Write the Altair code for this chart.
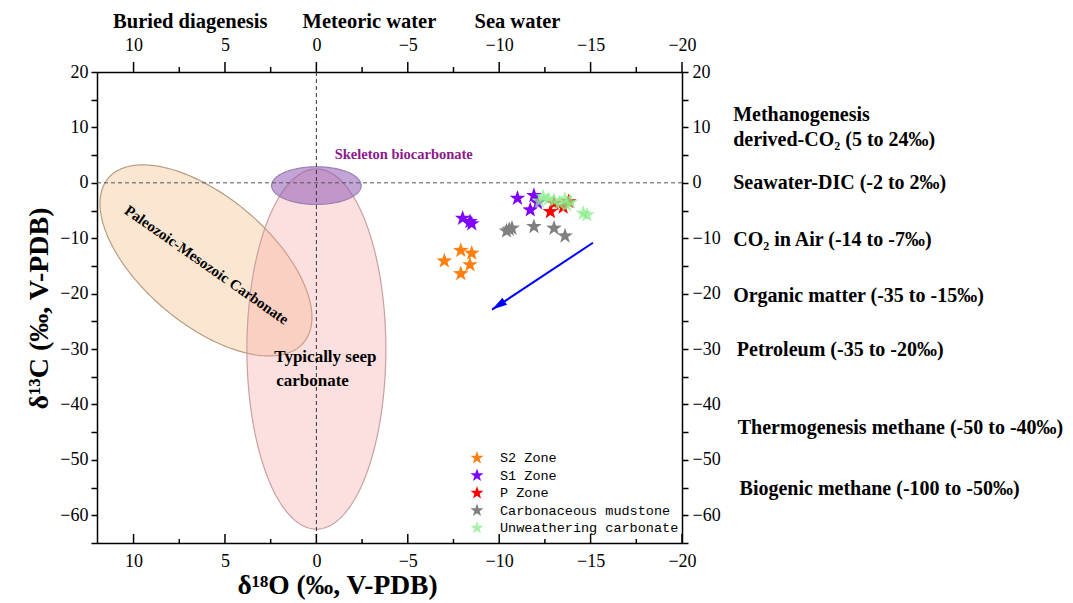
import math
import numpy as np
import pandas as pd
import altair as alt

# plot-area size in pixels and axis ranges (‰ V-PDB)
W, H = 585, 471
X_DOMAIN = [12, -20]
Y_DOMAIN = [-65, 20]
SERIF = "Liberation Serif"

# ---- measured isotope values: δ18O and δ13C ----
s2_o18 = [-7.0, -7.9, -8.5, -8.4, -7.9]
s2_c13 = [-14.1, -12.2, -12.7, -14.8, -16.4]
s1_o18 = [-8.0, -8.5, -8.4, -11.0, -11.9, -11.7, -12.1]
s1_c13 = [-6.4, -7.4, -7.0, -2.8, -2.3, -4.9, -3.6]
p_o18 = [-12.8, -13.8, -13.0, -13.5]
p_c13 = [-5.2, -3.4, -3.7, -4.4]
cm_o18 = [-10.4, -10.7, -10.55, -11.9, -13.0, -13.6]
cm_c13 = [-8.7, -8.2, -8.4, -7.9, -8.2, -9.6]
uw_o18 = [-12.4, -12.7, -13.0, -13.3, -13.7, -13.9, -13.6, -12.2, -14.6, -14.8]
uw_c13 = [-2.5, -2.9, -3.2, -3.7, -4.0, -3.5, -2.9, -3.3, -5.5, -5.8]

SERIES = ["S2 Zone", "S1 Zone", "P Zone", "Carbonaceous mudstone", "Unweathering carbonate"]
COLORS = ["#ff7f0e", "#7f00ff", "#ff0000", "#808080", "rgba(140,236,140,0.75)"]
SERIES_VALUES = [(s2_o18, s2_c13), (s1_o18, s1_c13), (p_o18, p_c13),
                 (cm_o18, cm_c13), (uw_o18, uw_c13)]

# axis tick positions
x_major = [10, 5, 0, -5, -10, -15, -20]
x_minor = [7.5, 2.5, -2.5, -7.5, -12.5, -17.5]
y_ticks = list(range(-65, 21, 5))

# field ellipses: centre and two conjugate semi-axis vectors (data units)
ELLIPSES = [
    # name, centre, u, v, fill, stroke
    ("Paleozoic-Mesozoic", (6.04, -14.0), (-5.3, -15.0), (2.35, -8.5),
     "rgba(245,196,140,0.40)", "#b89c80"),
    ("Seep", (0.0, -30.0), (3.8, 0.0), (0.0, 32.5),
     "rgba(245,160,160,0.32)", "#c8a0a0"),
    ("Skeleton", (0.0, -0.5), (2.45, 0.0), (0.0, 3.4),
     "rgba(145,90,180,0.55)", "#9a80b4"),
]

# trend arrow (start, tip)
arrow_o18 = [-15.13, -9.61]
arrow_c13 = [-10.81, -22.88]

# carbon-source annotations on the right
source_labels = ["Methanogenesis", "derived-CO\u2082 (5 to 24\u2030)", "Seawater-DIC (-2 to 2\u2030)",
                 "CO\u2082  in Air (-14 to -7\u2030)", "Organic matter (-35 to -15\u2030)",
                 "Petroleum (-35 to -20\u2030)", "Thermogenesis methane (-50 to -40\u2030)",
                 "Biogenic methane (-100 to -50\u2030)"]
source_x = [-22.8, -22.8, -22.8, -22.8, -22.8, -23.0, -23.05, -23.15]
source_y = [12.3, 7.8, 0.0, -10.3, -20.4, -30.1, -44.2, -55.3]

# water-type headers above the top axis
header_labels = ["Buried diagenesis", "Meteoric water", "Sea water"]
header_x = [6.9, -2.9, -11.0]
header_y = [29.0, 29.0, 29.0]

STAR = ("M0,-1L0.235,-0.324L0.951,-0.309L0.38,0.124L0.588,0.809L0,0.4"
        "L-0.588,0.809L-0.38,0.124L-0.951,-0.309L-0.235,-0.324Z")
ARROW_HEAD = "M0,0L0.55,2L-0.55,2Z"

XS = alt.Scale(domain=X_DOMAIN, nice=False, zero=False)
YS = alt.Scale(domain=Y_DOMAIN, nice=False, zero=False)

axis_common = dict(grid=False, domainColor="black", domainWidth=1.5, labelFont=SERIF,
                   labelFontSize=18, labelColor="black", labelOverlap=False, labelFlush=False)

bottom_axis = alt.Axis(orient="bottom", values=x_major, ticks=False, labelPadding=9,
                       title="\u03b4\u00b9\u2078O (\u2030, V-PDB)", titleFont=SERIF, titleFontSize=27.5,
                       titleFontWeight="bold", titleColor="black", titlePadding=1, titleX=240,
                       **axis_common)
top_axis = alt.Axis(orient="top", values=x_major, ticks=False, labelPadding=18, title=None,
                    **axis_common)
y_label_expr = "datum.value % 10 === 0 ? datum.label : ''"
left_axis = alt.Axis(orient="left", values=y_ticks, labelExpr=y_label_expr, tickSize=6,
                     tickColor="black", tickWidth=1.5, labelPadding=3,
                     title="\u03b4\u00b9\u00b3C (\u2030, V-PDB)", titleFont=SERIF, titleFontSize=28,
                     titleFontWeight="bold", titleColor="black", titlePadding=6, titleY=236,
                     **axis_common)
right_axis = alt.Axis(orient="right", values=y_ticks, labelExpr=y_label_expr, tickSize=6,
                      tickColor="black", tickWidth=1.5, labelPadding=4, title=None,
                      **axis_common)


def ellipse_band(c, u, v, n=160):
    """Upper/lower boundary of the ellipse c + u cos t + v sin t, sampled along x."""
    r = math.hypot(u[0], v[0])
    phi = math.atan2(v[0], u[0])
    s = np.linspace(math.pi, 0, n)
    x = c[0] + r * np.cos(s)
    y_a = c[1] + u[1] * np.cos(s + phi) + v[1] * np.sin(s + phi)
    y_b = c[1] + u[1] * np.cos(-s + phi) + v[1] * np.sin(-s + phi)
    return pd.DataFrame({"x": x, "lo": np.minimum(y_a, y_b), "hi": np.maximum(y_a, y_b)})


def ellipse_outline(c, u, v, n=240):
    """Closed outline of the ellipse c + u cos t + v sin t."""
    t = np.linspace(0, 2 * math.pi, n)
    return pd.DataFrame({"k": np.arange(n),
                         "x": c[0] + u[0] * np.cos(t) + v[0] * np.sin(t),
                         "y": c[1] + u[1] * np.cos(t) + v[1] * np.sin(t)})


layers = []

# ellipses (the seep one carries the top and right axes)
for name, c, u, v, fill, stroke in ELLIPSES:
    carries_axes = name == "Seep"
    layers.append(
        alt.Chart(ellipse_band(c, u, v)).mark_area(fill=fill, strokeWidth=0).encode(
            x=alt.X("x:Q", scale=XS, axis=top_axis if carries_axes else None),
            y=alt.Y("lo:Q", scale=YS, axis=right_axis if carries_axes else None),
            y2="hi:Q",
        )
    )
    layers.append(
        alt.Chart(ellipse_outline(c, u, v)).mark_line(color=stroke, strokeWidth=1.2).encode(
            x=alt.X("x:Q", scale=XS, axis=None),
            y=alt.Y("y:Q", scale=YS, axis=None),
            order="k:Q",
        )
    )

# dashed reference lines at δ18O = 0 and δ13C = 0
layers.append(
    alt.Chart(pd.DataFrame({"x": [0.0], "y1": [Y_DOMAIN[1]], "y2": [Y_DOMAIN[0]]}))
    .mark_rule(color="#333333", strokeWidth=1, strokeDash=[4, 3])
    .encode(x=alt.X("x:Q", scale=XS, axis=None), y=alt.Y("y1:Q", scale=YS, axis=None), y2="y2:Q")
)
layers.append(
    alt.Chart(pd.DataFrame({"x1": [X_DOMAIN[0]], "x2": [X_DOMAIN[1]], "y": [0.0]}))
    .mark_rule(color="#555555", strokeWidth=1, strokeDash=[4, 3])
    .encode(x=alt.X("x1:Q", scale=XS, axis=None), x2="x2:Q", y=alt.Y("y:Q", scale=YS, axis=None))
)


# labels
def text_layer(df, **mark):
    return alt.Chart(df).mark_text(font=SERIF, fontWeight="bold", **mark).encode(
        x=alt.X("x:Q", scale=XS, axis=None), y=alt.Y("y:Q", scale=YS, axis=None), text="t:N")


layers.append(text_layer(pd.DataFrame({"x": [-1.0], "y": [5.0], "t": ["Skeleton biocarbonate"]}),
                         fontSize=14.5, color="#8b1a8b", align="left", baseline="middle"))
layers.append(text_layer(pd.DataFrame({"x": [6.0], "y": [-14.8], "t": ["Paleozoic-Mesozoic Carbonate"]}),
                         fontSize=15, color="black", align="center", baseline="middle", angle=35))
layers.append(text_layer(pd.DataFrame({"x": [2.3, 2.2], "y": [-31.5, -35.7],
                                       "t": ["Typically seep", "carbonate"]}),
                         fontSize=17, color="black", align="left", baseline="middle"))
layers.append(text_layer(pd.DataFrame({"x": source_x, "y": source_y, "t": source_labels}),
                         fontSize=20, color="black", align="left", baseline="middle"))
layers.append(text_layer(pd.DataFrame({"x": header_x, "y": header_y, "t": header_labels}),
                         fontSize=20.5, color="black", align="center", baseline="middle"))

# trend arrow
arrow_df = pd.DataFrame({"x": arrow_o18, "y": arrow_c13, "k": [0, 1]})
layers.append(
    alt.Chart(arrow_df).mark_line(color="#0000ff", strokeWidth=2).encode(
        x=alt.X("x:Q", scale=XS, axis=None), y=alt.Y("y:Q", scale=YS, axis=None),
        order="k:Q")
)
dx_px = -(arrow_o18[1] - arrow_o18[0]) * W / (X_DOMAIN[0] - X_DOMAIN[1])
dy_px = -(arrow_c13[1] - arrow_c13[0]) * H / (Y_DOMAIN[1] - Y_DOMAIN[0])
head_angle = math.degrees(math.atan2(dx_px, -dy_px)) % 360
layers.append(
    alt.Chart(arrow_df.iloc[[1]]).mark_point(shape=ARROW_HEAD, filled=True, color="#0000ff",
                                             size=230, opacity=1, angle=head_angle).encode(
        x=alt.X("x:Q", scale=XS, axis=None), y=alt.Y("y:Q", scale=YS, axis=None))
)

# sample points (carry the bottom and left axes, plus the legend)
rows = []
for i, (name, (xs, ys)) in enumerate(zip(SERIES, SERIES_VALUES)):
    for xv, yv in zip(xs, ys):
        rows.append({"o18": xv, "c13": yv, "series": name, "rank": i})
pts = pd.DataFrame(rows)
layers.append(
    alt.Chart(pts).mark_point(shape=STAR, filled=True, size=270, opacity=1, strokeWidth=0).encode(
        x=alt.X("o18:Q", scale=XS, axis=bottom_axis),
        y=alt.Y("c13:Q", scale=YS, axis=left_axis),
        color=alt.Color("series:N", scale=alt.Scale(domain=SERIES, range=COLORS),
                        legend=alt.Legend(title=None, orient="none", legendX=373, legendY=379,
                                          symbolType=STAR, symbolSize=190, symbolStrokeWidth=0,
                                          labelFont="Liberation Mono", labelFontSize=13.5,
                                          labelColor="black", labelOffset=16, labelLimit=0,
                                          rowPadding=3.5, padding=0)),
        order=alt.Order("rank:Q"),
    )
)


# x-axis tick marks (inward at the bottom, outward at the top)
def x_tick_rules(values, y_from, y_to):
    return alt.Chart(pd.DataFrame({"v": values})).mark_rule(color="black", strokeWidth=1.5).encode(
        x=alt.X("v:Q", scale=XS, axis=None), y=alt.value(y_from), y2=alt.value(y_to))


layers.append(x_tick_rules(x_major, H, H - 9))
layers.append(x_tick_rules(x_minor, H, H - 4))
layers.append(x_tick_rules(x_major, 0, -10))
layers.append(x_tick_rules(x_minor, 0, -5))

chart = (
    alt.layer(*layers)
    .resolve_axis(x="independent", y="independent")
    .properties(width=W, height=H, autosize="none",
                padding={"left": 97, "top": 72, "right": 391, "bottom": 60},
                background="white")
    .configure_view(stroke=None)
)

chart.save("out.html", embed_options={"renderer": "svg", "actions": False})
